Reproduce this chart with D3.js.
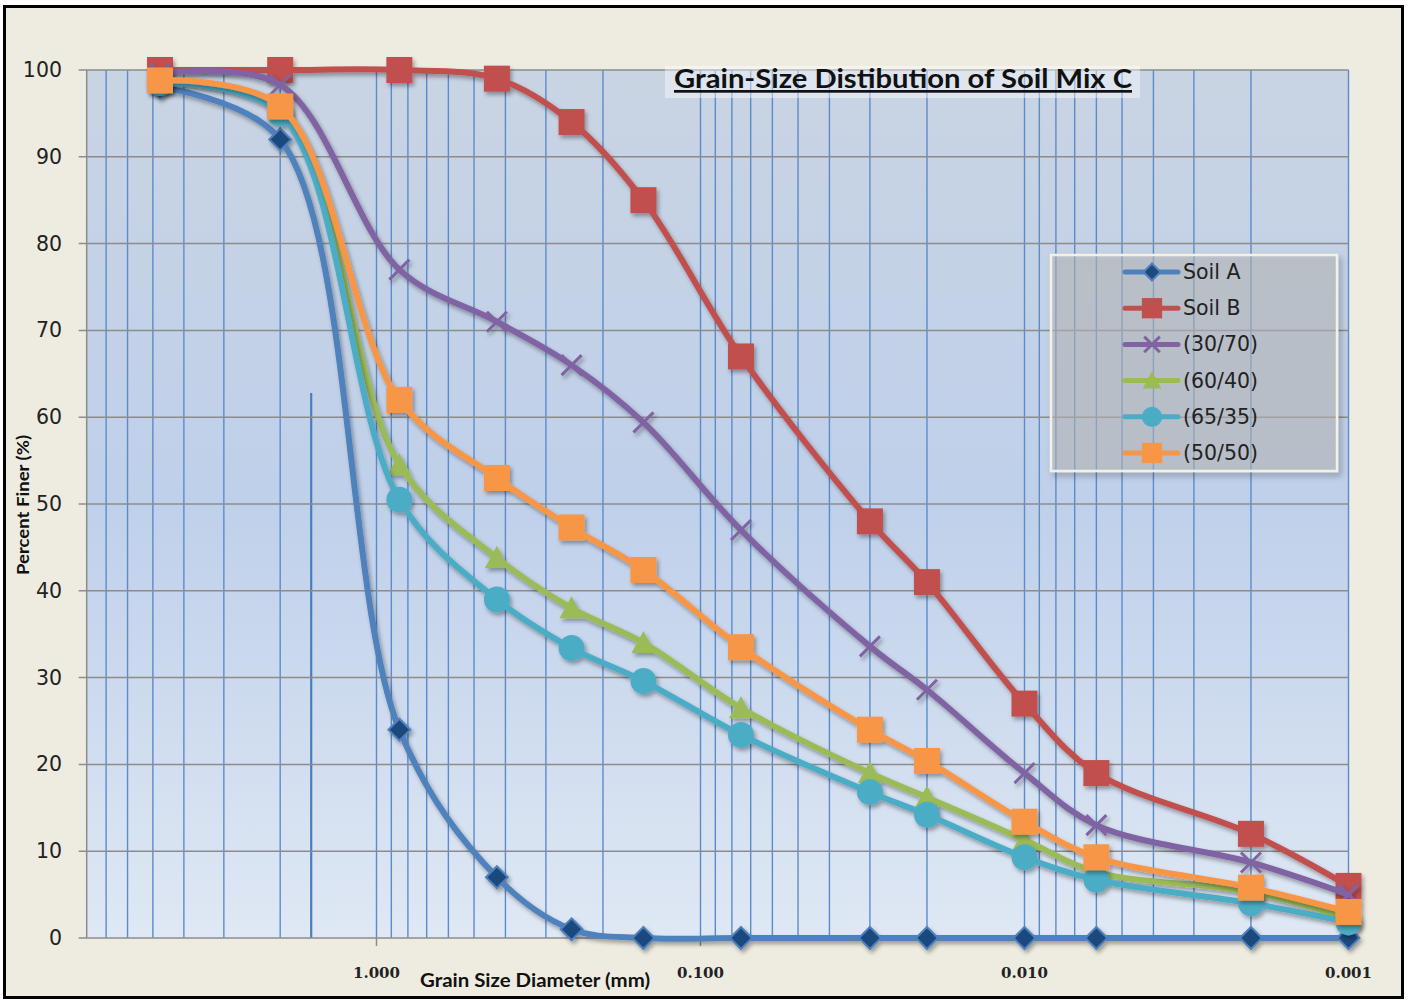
<!DOCTYPE html>
<html><head><meta charset="utf-8">
<script src="https://cdn.jsdelivr.net/npm/d3@7"></script>
<style>html,body{margin:0;padding:0;background:#fff;}svg{display:block;}</style>
</head><body>
<svg id="chart" width="1408" height="1000"></svg>
<script>
// ---- data ----
const grainSizes = [4.75, 2.0, 0.85, 0.425, 0.25, 0.15, 0.075, 0.03, 0.02, 0.01, 0.006, 0.002, 0.001];
const seriesNames = ["Soil A", "Soil B", "(30/70)", "(60/40)", "(65/35)", "(50/50)"];
const soilA   = [98, 92, 24, 7, 1, 0, 0, 0, 0, 0, 0, 0, 0];
const soilB   = [100, 100, 100, 99, 94, 85, 67, 48, 41, 27, 19, 12, 6];
const mix3070 = [99.6, 98.3, 77, 71, 66, 59.4, 47, 33.6, 28.6, 19, 13, 8.7, 5];
const mix6040 = [98.8, 95.5, 54.5, 43.8, 38, 34, 26.5, 19, 16.2, 11.3, 7.6, 5.3, 2.3];
const mix6535 = [98.5, 95, 50.5, 39, 33.4, 29.6, 23.4, 16.8, 14.2, 9.3, 6.7, 4, 1.8];
const mix5050 = [98.8, 95.8, 62, 53, 47.3, 42.4, 33.5, 24, 20.4, 13.4, 9.3, 5.8, 3];
const yTicks = [0, 10, 20, 30, 40, 50, 60, 70, 80, 90, 100];
const xLabelTicks = [1, 0.1, 0.01, 0.001];
const xTickFormat = v => v.toFixed(3);
const annotationLine = {size: 1.6, top: 62.8};
const titleText = "Grain-Size Distibution of Soil Mix C";
const xTitle = "Grain Size Diameter (mm)";
const yTitle = "Percent Finer (%)";

const styles = [
  {line:"#4f81bd", fill:"#1f497d", stroke:"#4f81bd", shape:"diamond"},
  {line:"#c0504d", fill:"#c0504d", stroke:"none", shape:"square"},
  {line:"#8064a2", fill:"none", stroke:"#8064a2", shape:"x"},
  {line:"#9bbb59", fill:"#9bbb59", stroke:"none", shape:"triangle"},
  {line:"#4bacc6", fill:"#4bacc6", stroke:"none", shape:"circle"},
  {line:"#f79646", fill:"#f79646", stroke:"none", shape:"square"}
];
const allValues = [soilA, soilB, mix3070, mix6040, mix6535, mix5050];

// ---- layout ----
const svg = d3.select("#chart");
const L = 86.7, R = 1348.5, T = 70, B = 938;
const x = d3.scaleLog().domain([8.05, 1, 0.001]).range([L, 376.5, R]);
const y = d3.scaleLinear().domain([0, 100]).range([B, T]);

const defs = svg.append("defs");
const grad = defs.append("linearGradient").attr("id","bg").attr("x1",0).attr("y1",0).attr("x2",0).attr("y2",1);
grad.append("stop").attr("offset","0%").attr("stop-color","#c9d4e3");
grad.append("stop").attr("offset","50%").attr("stop-color","#bfd0ea");
grad.append("stop").attr("offset","100%").attr("stop-color","#dfe8f4");
const sh = defs.append("filter").attr("id","shadow").attr("x","-10%").attr("y","-10%").attr("width","120%").attr("height","120%");
sh.append("feDropShadow").attr("dx",2).attr("dy",3).attr("stdDeviation",2).attr("flood-color","#000").attr("flood-opacity",0.35);
const sh2 = defs.append("filter").attr("id","shadow2").attr("x","-10%").attr("y","-10%").attr("width","130%").attr("height","130%");
sh2.append("feDropShadow").attr("dx",3).attr("dy",4).attr("stdDeviation",3).attr("flood-color","#000").attr("flood-opacity",0.3);

// outer background
svg.append("rect").attr("x",0).attr("y",0).attr("width",1408).attr("height",1000).attr("fill","#fff");
svg.append("rect").attr("x",4.5).attr("y",6.5).attr("width",1398).attr("height",991)
  .attr("fill","#eeece1").attr("stroke","#000").attr("stroke-width",3);

// plot area
svg.append("rect").attr("x",L).attr("y",T).attr("width",R-L).attr("height",B-T).attr("fill","url(#bg)");

// vertical gridlines
const xGrid = x.ticks().filter(d => x(d) > L + 3);
svg.append("g").selectAll("line").data(xGrid).join("line")
  .attr("x1",d=>x(d)).attr("x2",d=>x(d)).attr("y1",T).attr("y2",B)
  .attr("stroke","#5a8ccc").attr("stroke-width",1.4);
// annotation line
svg.append("line").attr("x1",x(annotationLine.size)).attr("x2",x(annotationLine.size))
  .attr("y1",y(annotationLine.top)).attr("y2",B).attr("stroke","#4a7ebb").attr("stroke-width",2.2);

// horizontal gridlines
svg.append("g").selectAll("line").data(yTicks).join("line")
  .attr("x1",L-8).attr("x2",R).attr("y1",d=>y(d)).attr("y2",d=>y(d))
  .attr("stroke","#8c8c8c").attr("stroke-width",1.5);
// left axis line
svg.append("line").attr("x1",L).attr("x2",L).attr("y1",T).attr("y2",B).attr("stroke","#8c8c8c").attr("stroke-width",1.5);
// x tick marks
svg.append("g").selectAll("line").data(xLabelTicks).join("line")
  .attr("x1",d=>x(d)).attr("x2",d=>x(d)).attr("y1",B).attr("y2",B+8)
  .attr("stroke","#8c8c8c").attr("stroke-width",1.5);

// y labels
svg.append("g").selectAll("text").data(yTicks).join("text")
  .attr("x",62).attr("y",d=>y(d)+7).attr("text-anchor","end")
  .attr("font-family","DejaVu Sans").attr("font-size",20.5).attr("fill","#222")
  .text(d=>d);
// x labels
svg.append("g").selectAll("text").data(xLabelTicks).join("text")
  .attr("x",d=>x(d)).attr("y",978).attr("text-anchor","middle")
  .attr("font-family","DejaVu Serif").attr("font-weight","bold").attr("font-size",15).attr("fill","#222")
  .text(xTickFormat);

// axis titles
svg.append("text").attr("x",420).attr("y",987).attr("font-family","Lato").attr("font-weight","bold")
  .attr("font-size",18.5).attr("fill","#111")
  .attr("textLength",230).attr("lengthAdjust","spacingAndGlyphs").text(xTitle);
svg.append("text").attr("transform","translate(29,505) rotate(-90)").attr("text-anchor","middle")
  .attr("font-family","Lato").attr("font-weight","bold").attr("font-size",17).attr("fill","#111")
  .attr("textLength",140).attr("lengthAdjust","spacingAndGlyphs").text(yTitle);

// title
svg.append("rect").attr("x",665).attr("y",66).attr("width",475).attr("height",32).attr("fill","#ffffff").attr("fill-opacity",0.4);
svg.append("text").attr("x",674).attr("y",88)
  .attr("font-family","Lato").attr("font-weight","bold").attr("font-size",27).attr("fill","#111")
  .attr("text-decoration","underline")
  .attr("textLength",458).attr("lengthAdjust","spacingAndGlyphs").text(titleText);

// ---- series ----
const lineGen = d3.line().x(d=>x(d[0])).y(d=>y(d[1])).curve(d3.curveCatmullRom.alpha(0.5));

function drawMarker(g, st, cx, cy, scale) {
  const s = scale || 1;
  if (st.shape === "diamond") {
    const r = 11*s;
    g.append("path").attr("d",`M${cx},${cy-r}L${cx+r},${cy}L${cx},${cy+r}L${cx-r},${cy}Z`)
      .attr("fill",st.fill).attr("stroke",st.stroke).attr("stroke-width",2);
  } else if (st.shape === "square") {
    const h = 13*s;
    g.append("rect").attr("x",cx-h).attr("y",cy-h).attr("width",2*h).attr("height",2*h).attr("fill",st.fill);
  } else if (st.shape === "x") {
    const h = 10*s;
    g.append("path").attr("d",`M${cx-h},${cy-h}L${cx+h},${cy+h}M${cx-h},${cy+h}L${cx+h},${cy-h}`)
      .attr("stroke",st.stroke).attr("stroke-width",3).attr("fill","none");
  } else if (st.shape === "triangle") {
    const h = 12*s;
    g.append("path").attr("d",`M${cx},${cy-h}L${cx+h},${cy+h*0.85}L${cx-h},${cy+h*0.85}Z`).attr("fill",st.fill);
  } else if (st.shape === "circle") {
    g.append("circle").attr("cx",cx).attr("cy",cy).attr("r",13*s).attr("fill",st.fill);
  }
}

allValues.forEach((vals, i) => {
  const st = styles[i];
  const pts = grainSizes.map((g, j) => [g, vals[j]]);
  const g = svg.append("g").attr("filter","url(#shadow)");
  g.append("path").attr("d", lineGen(pts)).attr("fill","none").attr("stroke",st.line)
    .attr("stroke-width",6).attr("stroke-linejoin","round").attr("stroke-linecap","round");
  pts.forEach(p => drawMarker(g, st, x(p[0]), y(p[1])));
});

// ---- legend ----
const lg = svg.append("g");
lg.append("rect").attr("x",1051).attr("y",255).attr("width",286).attr("height",216)
  .attr("fill","#bcbcbc").attr("fill-opacity",0.5).attr("stroke","#f3f1e3").attr("stroke-width",2.5)
  .attr("filter","url(#shadow2)");
seriesNames.forEach((name, i) => {
  const st = styles[i];
  const yy = 272 + i*36.2;
  const g = lg.append("g");
  g.append("line").attr("x1",1125).attr("x2",1178).attr("y1",yy).attr("y2",yy)
    .attr("stroke",st.line).attr("stroke-width",5).attr("stroke-linecap","round");
  drawMarker(g, st, 1152, yy, 0.78);
  g.append("text").attr("x",1183).attr("y",yy+7).attr("font-family","DejaVu Sans").attr("font-size",20.5)
    .attr("fill","#222").text(name);
});
</script>
</body></html>
